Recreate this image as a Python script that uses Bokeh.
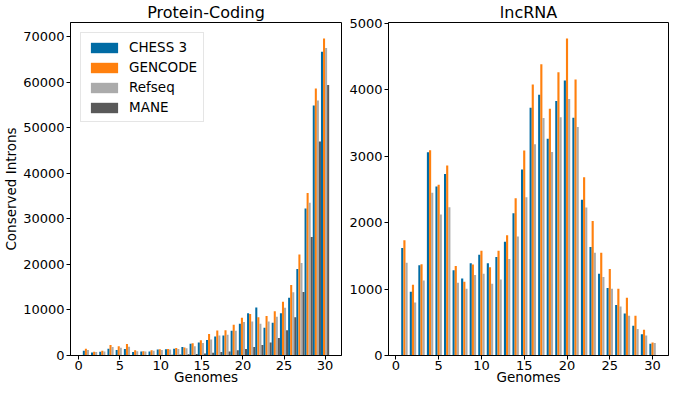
from bokeh.plotting import figure
from bokeh.layouts import row
from bokeh.models import Range1d, FixedTicker, NumeralTickFormatter, ColumnDataSource
from bokeh.transform import dodge
from bokeh.embed import file_html
from bokeh.resources import INLINE

# ---------------- data ----------------
genomes = list(range(1, 31))

chess3_pc = [1030, 680, 820, 1500, 1230, 1440, 750, 890, 890, 1300,
             1370, 1500, 1850, 2600, 2850, 3400, 4150, 4400, 5450, 6970,
             9250, 10560, 6070, 7180, 9250, 12700, 18980, 32290, 54900, 66700]
gencode_pc = [1500, 820, 1030, 2330, 2050, 2530, 1160, 960, 1160, 1370,
              1440, 1640, 1780, 2670, 3350, 4700, 5470, 5550, 6750, 8280,
              9100, 8420, 8690, 9730, 11800, 15460, 22150, 35670, 58600, 69600]
refseq_pc = [1230, 750, 890, 1850, 1710, 1920, 960, 890, 1030, 1230,
             1300, 1440, 1570, 2050, 2750, 3520, 4400, 4550, 5450, 7380,
             7450, 6970, 7450, 8490, 10490, 13870, 20290, 33530, 56000, 67500]
mane_pc = [80, 60, 70, 120, 100, 130, 70, 80, 90, 130,
           160, 200, 280, 340, 420, 620, 760, 900, 1170, 1450,
           1860, 2280, 2830, 3860, 5520, 8420, 13940, 26010, 47000, 59400]

chess3_lnc = [1618, 961, 1360, 3060, 2543, 2731, 1285, 1158, 1388, 1515,
              1388, 1482, 1712, 2143, 2800, 3729, 3926, 3264, 3832, 4141,
              3578, 2345, 1632, 1229, 1018, 760, 633, 446, 319, 178]
gencode_lnc = [1735, 1065, 1374, 3088, 2569, 2862, 1346, 1111, 1370, 1576,
               1327, 1576, 1810, 2368, 3086, 4080, 4385, 3714, 4263, 4774,
               4155, 2683, 2026, 1548, 1304, 1004, 868, 600, 389, 197]
refseq_lnc = [1398, 797, 1130, 2450, 2121, 2233, 1097, 1004, 1210, 1229,
              1079, 1144, 1454, 1792, 2383, 3180, 3574, 3063, 3588, 3860,
              3438, 2228, 1548, 1182, 1004, 736, 600, 399, 300, 188]

x_ticks = [0, 5, 10, 15, 20, 25, 30]
pc_y_ticks = [0, 10000, 20000, 30000, 40000, 50000, 60000, 70000]
lnc_y_ticks = [0, 1000, 2000, 3000, 4000, 5000]

series_names = ["CHESS 3", "GENCODE", "Refseq", "MANE"]
colors = ["#006BA4", "#FF800E", "#ABABAB", "#595959"]

FONT = "DejaVu Sans"
BAR_W = 0.25


def style(p, xlabel, ylabel, yticks):
    p.xgrid.visible = False
    p.ygrid.visible = False
    p.outline_line_color = "black"
    p.outline_line_width = 1
    p.background_fill_color = "white"
    p.border_fill_color = "white"
    p.xaxis.ticker = FixedTicker(ticks=x_ticks)
    p.yaxis.ticker = FixedTicker(ticks=yticks)
    p.yaxis.formatter = NumeralTickFormatter(format="0")
    p.xaxis.axis_label = xlabel
    if ylabel:
        p.yaxis.axis_label = ylabel
    for ax in (p.xaxis[0], p.yaxis[0]):
        ax.axis_line_color = "black"
        ax.axis_line_width = 1
        ax.major_tick_line_color = "black"
        ax.major_tick_in = 0
        ax.major_tick_out = 4
        ax.minor_tick_line_color = None
        ax.major_label_text_font = FONT
        ax.major_label_text_font_size = "13px"
        ax.major_label_text_color = "black"
        ax.axis_label_text_font = FONT
        ax.axis_label_text_font_size = "13.5px"
        ax.axis_label_text_font_style = "normal"
        ax.axis_label_text_color = "black"
    p.xaxis.major_label_standoff = 1
    p.xaxis.axis_label_standoff = -4
    p.yaxis.major_label_standoff = 2
    p.yaxis.axis_label_standoff = 1
    p.title.text_font = FONT
    p.title.text_font_size = "16px"
    p.title.text_font_style = "normal"
    p.title.text_color = "black"
    p.title.align = "center"
    p.title.standoff = 1


# ---------------- Protein-Coding ----------------
src_pc = ColumnDataSource(dict(g=genomes, chess=chess3_pc, gencode=gencode_pc,
                               refseq=refseq_pc, mane=mane_pc))
p1 = figure(width=346, height=387, title="Protein-Coding",
            x_range=Range1d(-1.0, 32.0), y_range=Range1d(0, 73100),
            output_backend="svg", toolbar_location=None,
            min_border_left=61, min_border_right=5,
            min_border_top=0, min_border_bottom=0)
cols_pc = ["chess", "gencode", "refseq", "mane"]
offs_pc = [-0.375, -0.125, 0.125, 0.375]
for col, off, name, c in zip(cols_pc, offs_pc, series_names, colors):
    p1.vbar(x=dodge("g", off, range=p1.x_range), top=col, width=BAR_W,
            source=src_pc, fill_color=c, line_color=None, legend_label=name)
style(p1, "Genomes", "Conserved Introns", pc_y_ticks)

lg = p1.legend[0]
lg.location = "top_left"
lg.margin = 10
lg.padding = 6
lg.spacing = 4
lg.glyph_width = 34
lg.glyph_height = 13
lg.label_height = 13
lg.label_standoff = 8
lg.label_text_font = FONT
lg.label_text_font_size = "13.5px"
lg.label_text_color = "black"
lg.border_line_color = "#cccccc"
lg.border_line_width = 1
lg.background_fill_alpha = 0.8

# ---------------- lncRNA ----------------
src_lnc = ColumnDataSource(dict(g=genomes, chess=chess3_lnc, gencode=gencode_lnc,
                                refseq=refseq_lnc))
p2 = figure(width=323, height=387, title="lncRNA",
            x_range=Range1d(-0.86, 31.86), y_range=Range1d(0, 5013),
            output_backend="svg", toolbar_location=None,
            min_border_left=42, min_border_right=1,
            min_border_top=0, min_border_bottom=0)
cols_lnc = ["chess", "gencode", "refseq"]
offs_lnc = [-0.25, 0.0, 0.25]
for col, off, c in zip(cols_lnc, offs_lnc, colors[:3]):
    p2.vbar(x=dodge("g", off, range=p2.x_range), top=col, width=BAR_W,
            source=src_lnc, fill_color=c, line_color=None)
style(p2, "Genomes", None, lnc_y_ticks)

layout = row(p1, p2)
open("out.html", "w").write(file_html(layout, INLINE))
